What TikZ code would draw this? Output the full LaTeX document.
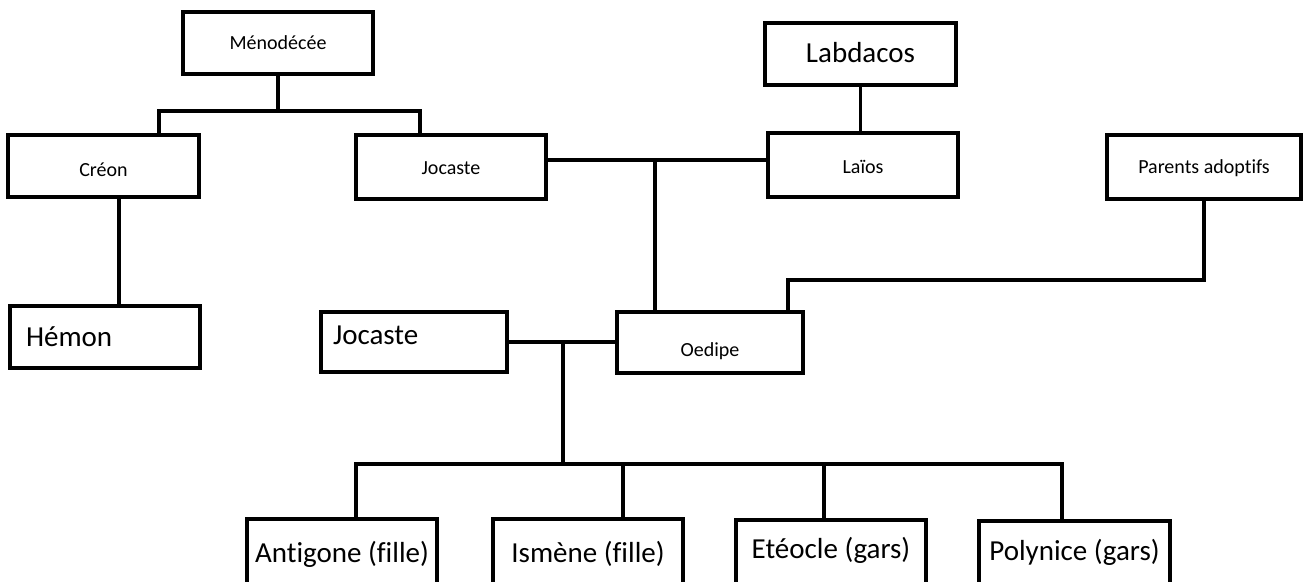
\documentclass[tikz,border=0pt]{standalone}
\usepackage{fontspec}
\setmainfont{Carlito}[Ligatures=NoCommon]
\begin{document}
\begin{tikzpicture}[x=1pt,y=-1pt,
  box/.style={draw, line width=4.2pt, rectangle, inner sep=0pt, text=black},
  sm/.style={font=\fontsize{20}{24}\selectfont},
  lg/.style={font=\fontsize{29}{34}\selectfont},
  wire/.style={line width=3.8pt}]
\clip (0,0) rectangle (1303,581);
\fill[white] (0,0) rectangle (1303,581);

% top generation
\node[box, sm, minimum width=190pt, minimum height=62pt] (meno) at (278,43) {Ménodécée};
\node[box, lg, minimum width=191pt, minimum height=62pt, text height=20pt, text depth=4pt] (labd) at (860.5,54) {Labdacos};

% second generation
\node[box, sm, minimum width=191pt, minimum height=62pt, text height=20pt, text depth=0pt] (creon) at (103.5,166) {Créon};
\node[box, sm, minimum width=190pt, minimum height=64pt, text height=16pt, text depth=2pt] (jocA) at (451,167) {Jocaste};
\node[box, sm, minimum width=190pt, minimum height=64pt, text height=16pt, text depth=0pt] (laios) at (863,165) {Laïos};
\node[box, sm, minimum width=194pt, minimum height=64pt, text height=16pt, text depth=4pt] (parents) at (1204,167) {Parents adoptifs};

% third generation
\node[box, lg, minimum width=190pt, minimum height=62pt, text width=158pt, align=left, inner xsep=16pt] (hemon) at (105,337) {Hémon};
\node[box, lg, minimum width=186pt, minimum height=60pt, text width=162pt, align=left, inner xsep=12pt, text depth=14pt] (jocB) at (414,342) {Jocaste};
\node[box, sm, minimum width=186pt, minimum height=61pt, text height=31pt] (oed) at (710,342.5) {Oedipe};

% children
\node[box, lg, minimum width=190pt, minimum height=69pt, text height=24pt, text depth=7pt] (ant) at (342,553.5) {Antigone (fille)};
\node[box, lg, minimum width=190pt, minimum height=69pt, text height=24pt, text depth=7pt] (ism) at (588,553.5) {Ismène (fille)};
\node[box, lg, minimum width=190pt, minimum height=68pt, text height=22pt, text depth=14pt] (ete) at (831,554) {Etéocle (gars)};
\node[box, lg, minimum width=191pt, minimum height=67pt, text height=22pt, text depth=11pt] (pol) at (1074.5,554.5) {Polynice (gars)};

% junction coordinates
\coordinate (m1) at (159,111);
\coordinate (m2) at (420,111);
\coordinate (hx) at (119,250);
\coordinate (jl) at (655,160);
\coordinate (p3) at (788,280);
\coordinate (cj) at (563,464);
\coordinate (k1) at (356,464);
\coordinate (k2) at (623,464);
\coordinate (k3) at (824,464);
\coordinate (k4) at (1062,464);
\coordinate (k5) at (1064,464);

% connectors
\draw[wire] (meno.south) -- (meno.south |- m1);
\draw[wire] (m1 |- creon.north) -- (m1) -- (m2) -- (m2 |- jocA.north);
\draw[wire] (creon.south -| hx) -- (hemon.north -| hx);
\draw[wire] (labd.south) -- (labd.south |- laios.north);
\draw[wire] (jocA.east |- jl) -- (laios.west |- jl);
\draw[wire] (jl) -- (jl |- oed.north);
\draw[wire] (parents.south) |- (p3) -- (p3 |- oed.north);
\draw[wire] (jocB.east) -- (jocB.east -| oed.west);
\draw[wire] (cj |- jocB.east) -- (cj);
\draw[wire] (k1 |- ant.north) -- (k1) -- (k5);
\draw[wire] (k2) -- (k2 |- ism.north);
\draw[wire] (k3) -- (k3 |- ete.north);
\draw[wire] (k4) -- (k4 |- pol.north);
\end{tikzpicture}
\end{document}
